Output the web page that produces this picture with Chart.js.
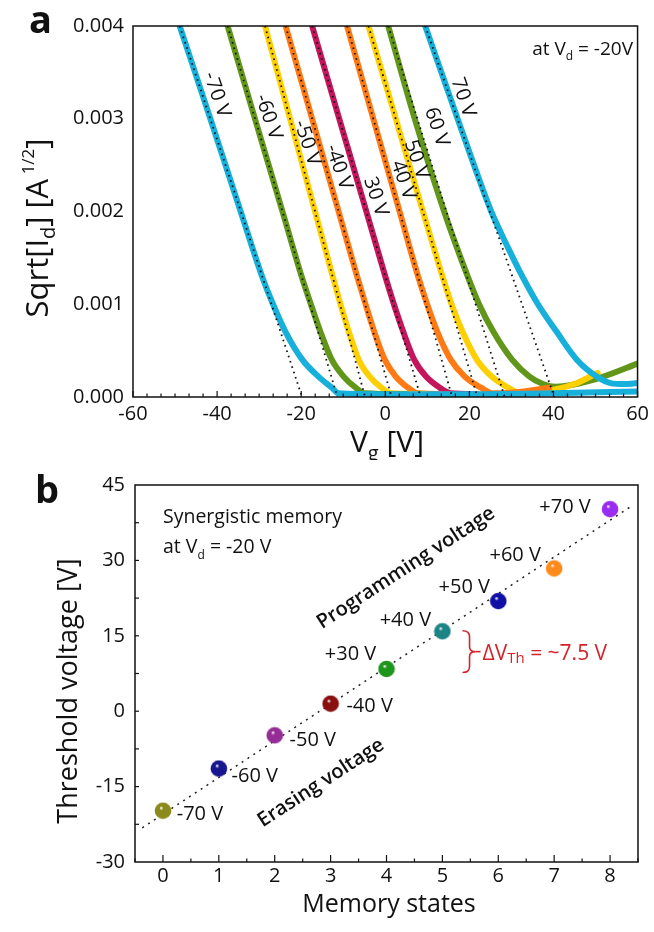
<!DOCTYPE html>
<html>
<head>
<meta charset="utf-8">
<script src="https://cdn.jsdelivr.net/npm/chart.js@4.4.1/dist/chart.umd.min.js"></script>
<style>
  html, body { margin: 0; padding: 0; background: #fff; }
  #wrap { position: relative; width: 654px; height: 932px; overflow: hidden; }
  canvas { position: absolute; left: 0; }
  #transfer { top: 0; }
  #states { top: 460px; }
</style>
</head>
<body>
<div id="wrap">
  <canvas id="transfer" width="654" height="460"></canvas>
  <canvas id="states" width="654" height="472"></canvas>
</div>
<script>
// ---- panel a: Sqrt[Id] vs Vg at Vd = -20 V, one curve per write/erase pulse ----
const curveLabels = ['-70 V', '-60 V', '-50 V', '-40 V', '30 V', '40 V', '50 V', '60 V', '70 V'];

const vgM70 = [-48.9, -41.6, -34.4, -29.3, -26.7, -23.7, -19.7, -15.9, -12.7, -11.1, 0, 20, 40, 60];
const sqM70 = [0.0040, 0.0030, 0.0020, 0.0013, 0.0010, 0.0007, 0.0004, 0.00022, 0.0001, 0.00004, 0.00003, 0.00003, 0.00004, 0.00006];
const vgM60 = [-37.5, -31.0, -24.45, -19.9, -17.7, -15.4, -12.7, -9.9, -7.05, -4.8, 5];
const sqM60 = [0.0040, 0.0030, 0.0020, 0.0013, 0.0010, 0.0007, 0.0004, 0.00022, 0.0001, 0.00004, 0.00003];
const vgM50 = [-28.6, -22.65, -16.7, -12.5, -10.65, -8.65, -6.3, -3.7, -0.9, 1.4, 10];
const sqM50 = [0.0040, 0.0030, 0.0020, 0.0013, 0.0010, 0.0007, 0.0004, 0.00022, 0.0001, 0.00004, 0.00003];
const vgM40 = [-23.7, -17.4, -11.1, -6.7, -4.7, -2.6, -0.1, 2.5, 5.4, 7.65, 15];
const sqM40 = [0.0040, 0.0030, 0.0020, 0.0013, 0.0010, 0.0007, 0.0004, 0.00022, 0.0001, 0.00004, 0.00003];
const vgP30 = [-17.4, -10.95, -4.5, 0.0, 2.05, 4.3, 6.9, 9.7, 12.95, 15.5, 22];
const sqP30 = [0.0040, 0.0030, 0.0020, 0.0013, 0.0010, 0.0007, 0.0004, 0.00022, 0.0001, 0.00004, 0.00003];
const vgP40 = [-9.1, -2.85, 3.4, 7.8, 9.95, 12.4, 15.6, 18.9, 22.8, 25.65, 33, 39];
const sqP40 = [0.0040, 0.0030, 0.0020, 0.0013, 0.0010, 0.0007, 0.0004, 0.00022, 0.0001, 0.00004, 0.00006, 0.0001];
const vgP50 = [-4.0, 2.5, 8.95, 13.6, 15.75, 18.4, 21.8, 25.3, 29.25, 32.15, 40, 45, 50.5];
const sqP50 = [0.0040, 0.0030, 0.0020, 0.0013, 0.0010, 0.0007, 0.0004, 0.00022, 0.0001, 0.00004, 0.00008, 0.00014, 0.00026];
const vgP60 = [0.7, 7.0, 14.0, 19.6, 22.3, 25.75, 30.2, 34.3, 37.5, 40.5, 46.4, 51.9, 60];
const sqP60 = [0.0040, 0.0030, 0.0020, 0.0013, 0.0010, 0.0007, 0.0004, 0.00022, 0.00014, 0.00011, 0.00015, 0.00022, 0.00036];
const vgP70 = [9.5, 17.2, 21.1, 25.2, 29.3, 32.6, 36.3, 40.8, 45.6, 50.3, 53.5, 57, 60];
const sqP70 = [0.0040, 0.0030, 0.0025, 0.0020, 0.0016, 0.0013, 0.0010, 0.0007, 0.0004, 0.00022, 0.00015, 0.00014, 0.00015];

// linear fits: where each fit leaves the top of the plot, and its Vg intercept (= threshold voltage)
const fitTopVg = [-48.9, -37.5, -28.6, -23.7, -17.4, -9.1, -4.0, 0.7, 9.5];
const thresholdV = [-19.8, -11.4, -4.8, 1.5, 8.4, 15.9, 21.9, 28.4, 40.2];

// ---- panel b: threshold voltage per memory state ----
const memoryStates = [0, 1, 2, 3, 4, 5, 6, 7, 8];
const stateLabels = ['-70 V', '-60 V', '-50 V', '-40 V', '+30 V', '+40 V', '+50 V', '+60 V', '+70 V'];
const trendStates = [-0.37, 8.37];
const trendVth = [-23.2, 40.7];

const FONT = "'Open Sans', 'DejaVu Sans', sans-serif";
Chart.defaults.font.family = FONT;
Chart.defaults.color = '#111';

const curveColors = ['#16b0da', '#62961a', '#ffd000', '#ff7a14', '#c4165c', '#ff7a14', '#ffd000', '#62961a', '#16b0da'];
const stateColors = ['#8c8a1c', '#16168e', '#962c96', '#8a1010', '#1e961e', '#1c8484', '#1010a4', '#ff8a1c', '#9a2cf2'];

const curveVg = [vgM70, vgM60, vgM50, vgM40, vgP30, vgP40, vgP50, vgP60, vgP70];
const curveSq = [sqM70, sqM60, sqM50, sqM40, sqP30, sqP40, sqP50, sqP60, sqP70];

// draw a run of text pieces (for sub/superscripts)
function richText(ctx, parts, x, y, align) {
    let w = 0;
    parts.forEach(p => { ctx.font = p.font; p.w = ctx.measureText(p.t).width; w += p.w; });
    let cx = align === 'center' ? x - w / 2 : align === 'right' ? x - w : x;
    ctx.textAlign = 'left';
    ctx.textBaseline = 'alphabetic';
    parts.forEach(p => { ctx.font = p.font; ctx.fillText(p.t, cx, y + (p.dy || 0)); cx += p.w; });
}

function drawFrame(ctx, area) {
    ctx.save();
    ctx.strokeStyle = '#111';
    ctx.lineWidth = 1.5;
    ctx.strokeRect(area.left, area.top, area.right - area.left, area.bottom - area.top);
    ctx.restore();
}

function tickLine(ctx, x1, y1, x2, y2) {
    ctx.beginPath();
    ctx.moveTo(x1, y1);
    ctx.lineTo(x2, y2);
    ctx.stroke();
}

// ------------------ panel a ------------------
const transferDatasets = [];
thresholdV.forEach((vth, i) => {
    transferDatasets.push({
        label: 'fit ' + curveLabels[i],
        data: [{ x: fitTopVg[i], y: 0.004 }, { x: vth, y: 0 }],
        showLine: true,
        borderColor: '#111',
        borderWidth: 1.8,
        borderDash: [1.6, 4],
        pointRadius: 0,
        order: 0
    });
});
curveVg.forEach((vg, i) => {
    transferDatasets.push({
        label: curveLabels[i],
        data: vg.map((v, j) => ({ x: v, y: curveSq[i][j] })),
        showLine: true,
        borderColor: curveColors[i],
        borderWidth: 6,
        borderCapStyle: 'round',
        cubicInterpolationMode: 'monotone',
        pointRadius: 0,
        order: i === 0 ? 1 : (i === 8 ? 2 : 3)
    });
});

const curveLabelAt = [[-40.1, 0.00326], [-27.8, 0.00302], [-18.6, 0.00274], [-11.1, 0.00248],
    [-2.3, 0.00216], [4.25, 0.00234], [7.4, 0.00256], [12.2, 0.00291], [18.5, 0.00323]];

const transferDecor = {
    id: 'transferDecor',
    afterDatasetsDraw(chart) {
        const { ctx, chartArea: a, scales: { x, y } } = chart;
        drawFrame(ctx, a);
        ctx.save();
        ctx.strokeStyle = '#111';
        ctx.lineWidth = 1.2;
        for (let k = 0; k <= 36; k++) {
            const px = x.getPixelForValue(-60 + k * 20 / 6);
            const len = k % 6 === 0 ? 6 : 3.5;
            tickLine(ctx, px, a.bottom, px, a.bottom - len);
        }
        ctx.fillStyle = '#111';
        // curve labels, rotated along the curves
        curveLabelAt.forEach((p, i) => {
            ctx.save();
            ctx.translate(x.getPixelForValue(p[0]), y.getPixelForValue(p[1]));
            ctx.rotate(71 * Math.PI / 180);
            ctx.font = '20px ' + FONT;
            ctx.textAlign = 'center';
            ctx.textBaseline = 'middle';
            ctx.fillText(curveLabels[i], 0, 0);
            ctx.restore();
        });
        richText(ctx, [
            { t: 'at V', font: '19px ' + FONT },
            { t: 'd', font: '12px ' + FONT, dy: 5 },
            { t: ' = -20V', font: '19px ' + FONT }
        ], 633, 55, 'right');
        // axis titles
        richText(ctx, [
            { t: 'V', font: '30px ' + FONT },
            { t: 'g', font: '20px ' + FONT, dy: 8 },
            { t: ' [V]', font: '30px ' + FONT }
        ], 387, 452, 'center');
        ctx.save();
        ctx.translate(48, 228);
        ctx.rotate(-Math.PI / 2);
        richText(ctx, [
            { t: 'Sqrt[I', font: '31px ' + FONT },
            { t: 'd', font: '20px ' + FONT, dy: 7 },
            { t: '] [A', font: '31px ' + FONT },
            { t: ' 1/2', font: '17px ' + FONT, dy: -14 },
            { t: ']', font: '31px ' + FONT }
        ], 0, 0, 'center');
        ctx.restore();
        ctx.font = 'bold 38px ' + FONT;
        ctx.textAlign = 'left';
        ctx.fillText('a', 29, 33);
        ctx.restore();
    }
};

new Chart(document.getElementById('transfer'), {
    type: 'scatter',
    data: { datasets: transferDatasets },
    options: {
        responsive: false,
        animation: false,
        events: [],
        layout: { padding: { top: 26, right: 13, left: 0, bottom: 0 } },
        plugins: { legend: { display: false }, tooltip: { enabled: false } },
        scales: {
            x: {
                min: -60, max: 60,
                grid: { display: false, drawTicks: false },
                border: { display: false },
                ticks: { stepSize: 20, padding: 5, font: { size: 20 }, color: '#111', maxRotation: 0 },
                afterFit: (s) => { s.height = 63; }
            },
            y: {
                min: 0, max: 0.004,
                grid: { display: false, drawTicks: false },
                border: { display: false },
                ticks: { stepSize: 0.001, padding: 9, font: { size: 20 }, color: '#111',
                    callback: (v) => v.toFixed(3) },
                afterFit: (s) => { s.width = 133; }
            }
        }
    },
    plugins: [transferDecor]
});

// ------------------ panel b ------------------
function makeBall(color) {
    const c = document.createElement('canvas');
    c.width = 18; c.height = 18;
    const g = c.getContext('2d');
    const grad = g.createRadialGradient(7, 6, 0.3, 9, 9, 8.5);
    grad.addColorStop(0, '#ffffff');
    grad.addColorStop(0.22, color);
    grad.addColorStop(1, color);
    g.fillStyle = grad;
    g.beginPath();
    g.arc(9, 9, 8.3, 0, Math.PI * 2);
    g.fill();
    return c;
}

const stateLabelOffset = [[37, 4], [36, 8], [38, 5], [39, 3], [-36, -15], [-37, -11], [-34, -14], [-39, -13], [-45, -2]];

const statesDecor = {
    id: 'statesDecor',
    afterDatasetsDraw(chart) {
        const { ctx, chartArea: a, scales: { x, y } } = chart;
        drawFrame(ctx, a);
        ctx.save();
        ctx.strokeStyle = '#111';
        ctx.lineWidth = 1.2;
        for (let k = 0; k <= 18; k++) {
            const v = -0.5 + k * 0.5;
            const px = x.getPixelForValue(v);
            const len = Number.isInteger(v) ? 7 : 3.5;
            tickLine(ctx, px, a.bottom, px, a.bottom - len);
        }
        for (let k = 1; k < 10; k++) {
            const py = y.getPixelForValue(-30 + k * 7.5);
            tickLine(ctx, a.left, py, a.left + 4, py);
        }
        ctx.fillStyle = '#111';
        ctx.font = '20px ' + FONT;
        ctx.textAlign = 'center';
        ctx.textBaseline = 'middle';
        memoryStates.forEach((s, i) => {
            ctx.fillText(stateLabels[i], x.getPixelForValue(s) + stateLabelOffset[i][0],
                y.getPixelForValue(thresholdV[i]) + stateLabelOffset[i][1]);
        });
        ctx.textAlign = 'left';
        ctx.textBaseline = 'alphabetic';
        ctx.font = '19.5px ' + FONT;
        ctx.fillText('Synergistic memory', 163, 63);
        richText(ctx, [
            { t: 'at V', font: '19.5px ' + FONT },
            { t: 'd', font: '12px ' + FONT, dy: 6 },
            { t: ' = -20 V', font: '19.5px ' + FONT }
        ], 163, 93, 'left');
        // rotated annotations
        [['Programming voltage', 406, 108], ['Erasing voltage', 321, 323]].forEach(([t, cx, cy]) => {
            ctx.save();
            ctx.translate(cx, cy);
            ctx.rotate(-33 * Math.PI / 180);
            ctx.font = '600 20px ' + FONT;
            ctx.textAlign = 'center';
            ctx.textBaseline = 'middle';
            ctx.fillText(t, 0, 0);
            ctx.restore();
        });
        // red brace between +40 V and +30 V
        const bx = x.getPixelForValue(5.45) + 2;
        const yT = y.getPixelForValue(16), yB = y.getPixelForValue(7.7);
        const yM = (yT + yB) / 2;
        ctx.strokeStyle = '#d42328';
        ctx.lineWidth = 1.6;
        ctx.beginPath();
        ctx.moveTo(bx - 7, yT);
        ctx.quadraticCurveTo(bx, yT, bx, yT + 6);
        ctx.lineTo(bx, yM - 5);
        ctx.quadraticCurveTo(bx, yM, bx + 6, yM);
        ctx.quadraticCurveTo(bx, yM, bx, yM + 5);
        ctx.lineTo(bx, yB - 6);
        ctx.quadraticCurveTo(bx, yB, bx - 7, yB);
        ctx.stroke();
        ctx.beginPath();
        ctx.moveTo(bx + 6, yM);
        ctx.lineTo(bx + 11, yM);
        ctx.stroke();
        ctx.fillStyle = '#d42328';
        richText(ctx, [
            { t: '\u0394V', font: '21px ' + FONT },
            { t: 'Th', font: '15px ' + FONT, dy: 3 },
            { t: ' = ~7.5 V', font: '21px ' + FONT }
        ], bx + 13, yM + 8, 'left');
        // axis titles
        ctx.fillStyle = '#111';
        ctx.font = '25px ' + FONT;
        ctx.textAlign = 'center';
        ctx.fillText('Memory states', 389, 452);
        ctx.save();
        ctx.translate(77, 231);
        ctx.rotate(-Math.PI / 2);
        ctx.font = '27px ' + FONT;
        ctx.fillText('Threshold voltage [V]', 0, 0);
        ctx.restore();
        ctx.font = 'bold 38px ' + FONT;
        ctx.textAlign = 'left';
        ctx.fillText('b', 35, 43);
        ctx.restore();
    }
};

new Chart(document.getElementById('states'), {
    type: 'scatter',
    data: {
        datasets: [{
            label: 'Threshold voltage',
            data: memoryStates.map((s, i) => ({ x: s, y: thresholdV[i] })),
            pointStyle: stateColors.map(makeBall),
            pointRadius: 9,
            order: 0
        }, {
            label: 'trend',
            data: trendStates.map((s, i) => ({ x: s, y: trendVth[i] })),
            showLine: true,
            borderColor: '#222',
            borderWidth: 1.5,
            borderDash: [2, 5],
            pointRadius: 0,
            order: 1
        }]
    },
    options: {
        responsive: false,
        animation: false,
        events: [],
        layout: { padding: { top: 25, right: 16, left: 0, bottom: 0 } },
        plugins: { legend: { display: false }, tooltip: { enabled: false } },
        scales: {
            x: {
                min: -0.5, max: 8.5,
                grid: { display: false, drawTicks: false },
                border: { display: false },
                afterBuildTicks: (s) => { s.ticks = memoryStates.map(v => ({ value: v })); },
                ticks: { padding: 2, font: { size: 20 }, color: '#111', maxRotation: 0, autoSkip: false },
                afterFit: (s) => { s.height = 70; }
            },
            y: {
                min: -30, max: 45,
                grid: { display: false, drawTicks: false },
                border: { display: false },
                ticks: { stepSize: 15, padding: 10, font: { size: 20 }, color: '#111' },
                afterFit: (s) => { s.width = 135; }
            }
        }
    },
    plugins: [statesDecor]
});
</script>
</body>
</html>
